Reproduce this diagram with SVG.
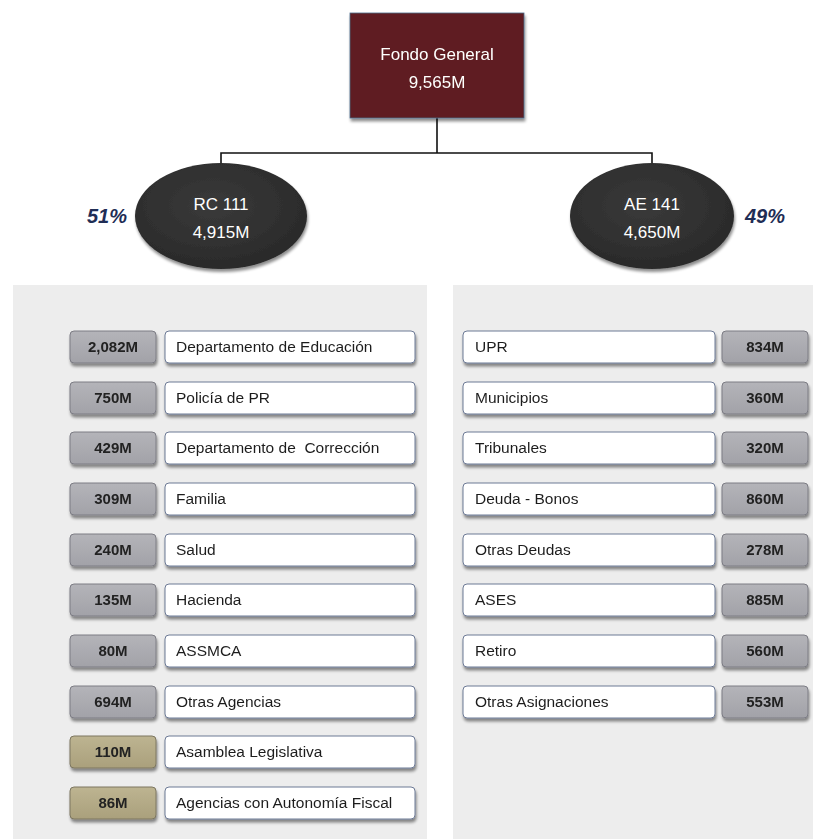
<svg xmlns="http://www.w3.org/2000/svg" width="816" height="839" viewBox="0 0 816 839">
<defs>
<filter id="sh" x="-10%" y="-20%" width="125%" height="160%">
<feGaussianBlur in="SourceAlpha" stdDeviation="1.5"/>
<feOffset dx="1" dy="3" result="b"/>
<feComponentTransfer><feFuncA type="linear" slope="0.45"/></feComponentTransfer>
<feMerge><feMergeNode/><feMergeNode in="SourceGraphic"/></feMerge>
</filter>
<linearGradient id="gg" x1="0" y1="0" x2="0" y2="1"><stop offset="0" stop-color="#b4b4b9"/><stop offset="1" stop-color="#a2a2a8"/></linearGradient>
<linearGradient id="tg" x1="0" y1="0" x2="0" y2="1"><stop offset="0" stop-color="#bdb491"/><stop offset="1" stop-color="#aaa07c"/></linearGradient>
<radialGradient id="eg" cx="0.45" cy="0.4" r="0.6"><stop offset="0" stop-color="#3a3a3a"/><stop offset="1" stop-color="#2a2a2a"/></radialGradient>
</defs>
<style>
.t{font-family:"Liberation Sans","Open Sans",sans-serif;}
.w{fill:#ffffff;font-size:17px;text-anchor:middle;}
.lab{fill:#1e1e1e;font-size:15.5px;}
.num{fill:#222;font-size:15px;font-weight:bold;text-anchor:middle;}
.pct{fill:#1f2d55;font-size:20px;font-weight:bold;font-style:italic;}
.wb{fill:#ffffff;stroke:#6d7a95;stroke-width:1;}
.gb{fill:url(#gg);stroke:#7c7c84;stroke-width:1;}
.tb{fill:url(#tg);stroke:#7c7660;stroke-width:1;}
.ln{stroke:#111;stroke-width:1.6;fill:none;}
</style>
<rect width="816" height="839" fill="#ffffff"/>
<rect x="13" y="285" width="414" height="554" fill="#ededed"/>
<rect x="453" y="285" width="360" height="554" fill="#ededed"/>
<g id="connectors">
<path class="ln" d="M437 118 V153 M221 163 V153 H652 V163"/>
</g>
<g id="fondo" filter="url(#sh)">
<rect x="350" y="13" width="174" height="105" fill="#5f1f20" stroke="#4a6a8a" stroke-width="0.8"/>
<text class="t w" x="437" y="60">Fondo General</text>
<text class="t w" x="437" y="88">9,565M</text>
</g>
<g id="rc111">
<ellipse cx="221" cy="216" rx="86" ry="53" fill="url(#eg)" filter="url(#sh)"/>
<text class="t w" x="221" y="210">RC 111</text>
<text class="t w" x="221" y="238">4,915M</text>
<text class="t pct" x="87" y="223">51%</text>
</g>
<g id="ae141">
<ellipse cx="652" cy="216" rx="82" ry="53" fill="url(#eg)" filter="url(#sh)"/>
<text class="t w" x="652" y="210">AE 141</text>
<text class="t w" x="652" y="238">4,650M</text>
<text class="t pct" x="745" y="223">49%</text>
</g>
<g id="left-items" filter="url(#sh)">
<g id="l1"><rect class="gb" x="70" y="331" width="86" height="32" rx="4"/><text class="t num" x="113" y="352">2,082M</text><rect class="wb" x="165" y="331" width="250" height="32" rx="4"/><text class="t lab" x="176" y="352">Departamento de Educación</text></g>
<g id="l2"><rect class="gb" x="70" y="382" width="86" height="32" rx="4"/><text class="t num" x="113" y="403">750M</text><rect class="wb" x="165" y="382" width="250" height="32" rx="4"/><text class="t lab" x="176" y="403">Policía de PR</text></g>
<g id="l3"><rect class="gb" x="70" y="432" width="86" height="32" rx="4"/><text class="t num" x="113" y="453">429M</text><rect class="wb" x="165" y="432" width="250" height="32" rx="4"/><text class="t lab" x="176" y="453" xml:space="preserve">Departamento de  Corrección</text></g>
<g id="l4"><rect class="gb" x="70" y="483" width="86" height="32" rx="4"/><text class="t num" x="113" y="504">309M</text><rect class="wb" x="165" y="483" width="250" height="32" rx="4"/><text class="t lab" x="176" y="504">Familia</text></g>
<g id="l5"><rect class="gb" x="70" y="534" width="86" height="32" rx="4"/><text class="t num" x="113" y="555">240M</text><rect class="wb" x="165" y="534" width="250" height="32" rx="4"/><text class="t lab" x="176" y="555">Salud</text></g>
<g id="l6"><rect class="gb" x="70" y="584" width="86" height="32" rx="4"/><text class="t num" x="113" y="605">135M</text><rect class="wb" x="165" y="584" width="250" height="32" rx="4"/><text class="t lab" x="176" y="605">Hacienda</text></g>
<g id="l7"><rect class="gb" x="70" y="635" width="86" height="32" rx="4"/><text class="t num" x="113" y="656">80M</text><rect class="wb" x="165" y="635" width="250" height="32" rx="4"/><text class="t lab" x="176" y="656">ASSMCA</text></g>
<g id="l8"><rect class="gb" x="70" y="686" width="86" height="32" rx="4"/><text class="t num" x="113" y="707">694M</text><rect class="wb" x="165" y="686" width="250" height="32" rx="4"/><text class="t lab" x="176" y="707">Otras Agencias</text></g>
<g id="l9"><rect class="tb" x="70" y="736" width="86" height="32" rx="4"/><text class="t num" x="113" y="757">110M</text><rect class="wb" x="165" y="736" width="250" height="32" rx="4"/><text class="t lab" x="176" y="757">Asamblea Legislativa</text></g>
<g id="l10"><rect class="tb" x="70" y="787" width="86" height="32" rx="4"/><text class="t num" x="113" y="808">86M</text><rect class="wb" x="165" y="787" width="250" height="32" rx="4"/><text class="t lab" x="176" y="808">Agencias con Autonomía Fiscal</text></g>
</g>
<g id="right-items" filter="url(#sh)">
<g id="r1"><rect class="wb" x="463" y="331" width="252" height="32" rx="4"/><text class="t lab" x="475" y="352">UPR</text><rect class="gb" x="722" y="331" width="86" height="32" rx="4"/><text class="t num" x="765" y="352">834M</text></g>
<g id="r2"><rect class="wb" x="463" y="382" width="252" height="32" rx="4"/><text class="t lab" x="475" y="403">Municipios</text><rect class="gb" x="722" y="382" width="86" height="32" rx="4"/><text class="t num" x="765" y="403">360M</text></g>
<g id="r3"><rect class="wb" x="463" y="432" width="252" height="32" rx="4"/><text class="t lab" x="475" y="453">Tribunales</text><rect class="gb" x="722" y="432" width="86" height="32" rx="4"/><text class="t num" x="765" y="453">320M</text></g>
<g id="r4"><rect class="wb" x="463" y="483" width="252" height="32" rx="4"/><text class="t lab" x="475" y="504">Deuda - Bonos</text><rect class="gb" x="722" y="483" width="86" height="32" rx="4"/><text class="t num" x="765" y="504">860M</text></g>
<g id="r5"><rect class="wb" x="463" y="534" width="252" height="32" rx="4"/><text class="t lab" x="475" y="555">Otras Deudas</text><rect class="gb" x="722" y="534" width="86" height="32" rx="4"/><text class="t num" x="765" y="555">278M</text></g>
<g id="r6"><rect class="wb" x="463" y="584" width="252" height="32" rx="4"/><text class="t lab" x="475" y="605">ASES</text><rect class="gb" x="722" y="584" width="86" height="32" rx="4"/><text class="t num" x="765" y="605">885M</text></g>
<g id="r7"><rect class="wb" x="463" y="635" width="252" height="32" rx="4"/><text class="t lab" x="475" y="656">Retiro</text><rect class="gb" x="722" y="635" width="86" height="32" rx="4"/><text class="t num" x="765" y="656">560M</text></g>
<g id="r8"><rect class="wb" x="463" y="686" width="252" height="32" rx="4"/><text class="t lab" x="475" y="707">Otras Asignaciones</text><rect class="gb" x="722" y="686" width="86" height="32" rx="4"/><text class="t num" x="765" y="707">553M</text></g>
</g>
</svg>
